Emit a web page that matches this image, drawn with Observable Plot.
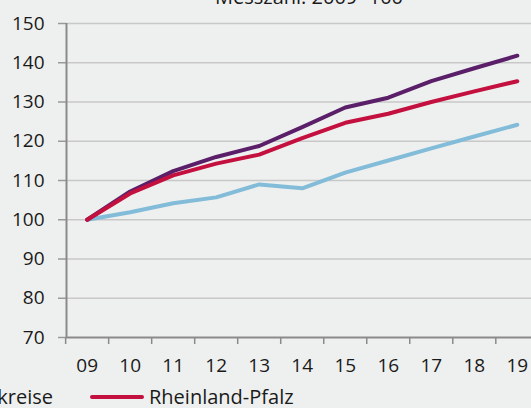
<!DOCTYPE html>
<html>
<head>
<meta charset="utf-8">
<script src="https://cdn.jsdelivr.net/npm/d3@7"></script>
<script src="https://cdn.jsdelivr.net/npm/@observablehq/plot@0.6"></script>
<style>
  html, body { margin: 0; padding: 0; background: #eef0ef; overflow: hidden; }
  #wrap { position: relative; width: 531px; height: 408px; font-family: "Open Sans", sans-serif; color: #1a1a1a; }
  #title { position: absolute; left: 0; width: 618px; top: -17px; text-align: center; font-size: 20px; line-height: normal; white-space: nowrap; }
  #chart { position: absolute; left: 0; top: 0; }
  .leg { position: absolute; top: 383px; display: flex; align-items: center; white-space: nowrap; font-size: 20px; }
  .sw { display: inline-block; width: 54px; height: 4px; border-radius: 2px; margin-right: 5px; }
  .item { display: inline-flex; align-items: center; margin-right: 38px; }
</style>
</head>
<body>
<div id="wrap">
  <div id="chart"></div>
  <div id="title">Messzahl: 2009=100</div>
  <div class="leg" id="legLeft" style="right: calc(100% - 53px);"></div>
  <div class="leg" id="legRight" style="left: 90px;"></div>
</div>
<script>
const years = [2009, 2010, 2011, 2012, 2013, 2014, 2015, 2016, 2017, 2018, 2019];
const yearLabels = ["09", "10", "11", "12", "13", "14", "15", "16", "17", "18", "19"];
const yTicks = [70, 80, 90, 100, 110, 120, 130, 140, 150];

const seriesNames = ["Kreisfreie Städte", "Landkreise", "Rheinland-Pfalz"];
const seriesColors = ["#82bcd9", "#5b1f6a", "#c4103f"];

const kreisfreieStaedte = [100, 101.9, 104.2, 105.7, 109.0, 108.0, 112.0, 115.1, 118.2, 121.2, 124.2];
const landkreise       = [100, 107.2, 112.4, 116.0, 118.8, 123.6, 128.6, 131.1, 135.3, 138.6, 141.8];
const rheinlandPfalz   = [100, 106.7, 111.3, 114.3, 116.6, 120.8, 124.7, 127.0, 130.0, 132.7, 135.3];

const seriesValues = [kreisfreieStaedte, landkreise, rheinlandPfalz];

const rows = [];
seriesNames.forEach((name, si) => {
  years.forEach((yr, i) => rows.push({series: name, year: yr, value: seriesValues[si][i]}));
});

const boundaries = years.map(y => y - 0.5);

const chart = Plot.plot({
  width: 531,
  height: 381,
  marginLeft: 66,
  marginRight: 0,
  marginTop: 23,
  marginBottom: 44,
  style: {background: "transparent", fontFamily: "'Open Sans', sans-serif", fontSize: "19px", color: "#1a1a1a"},
  x: {domain: [2008.52, 2019.33], axis: null},
  y: {domain: [70, 150], axis: null},
  color: {domain: seriesNames, range: seriesColors},
  marks: [
    Plot.ruleY(yTicks.filter(d => d > 70), {stroke: "#c8c8c8", strokeWidth: 1.5}),
    Plot.axisY(yTicks, {label: null, tickSize: 8, tickPadding: 14, stroke: "#9a9a9a", strokeWidth: 1.5, fontSize: 19, fill: "#1a1a1a"}),
    Plot.axisX(boundaries, {label: null, tickSize: 7, tickFormat: () => "", stroke: "#8a8a8a", strokeWidth: 1.5}),
    Plot.axisX(years, {label: null, tickSize: 0, tickPadding: 21, tickFormat: d => yearLabels[years.indexOf(d)], fontSize: 19, fill: "#1a1a1a"}),
    Plot.ruleY([70], {stroke: "#8a8a8a", strokeWidth: 2}),
    Plot.ruleX([2008.52], {stroke: "#8a8a8a", strokeWidth: 2}),
    Plot.line(rows, {x: "year", y: "value", z: "series", stroke: "series", strokeWidth: 4, strokeLinecap: "round", strokeLinejoin: "round"})
  ]
});
document.getElementById("chart").appendChild(chart);

function legendItem(i) {
  const it = document.createElement("span");
  it.className = "item";
  const sw = document.createElement("span");
  sw.className = "sw";
  sw.style.background = seriesColors[i];
  it.appendChild(sw);
  it.appendChild(document.createTextNode(seriesNames[i]));
  return it;
}
const left = document.getElementById("legLeft");
const a = legendItem(0); left.appendChild(a);
const b = legendItem(1); b.style.marginRight = "0"; left.appendChild(b);
const right = document.getElementById("legRight");
const c = legendItem(2); c.style.marginRight = "0"; right.appendChild(c);
</script>
</body>
</html>
